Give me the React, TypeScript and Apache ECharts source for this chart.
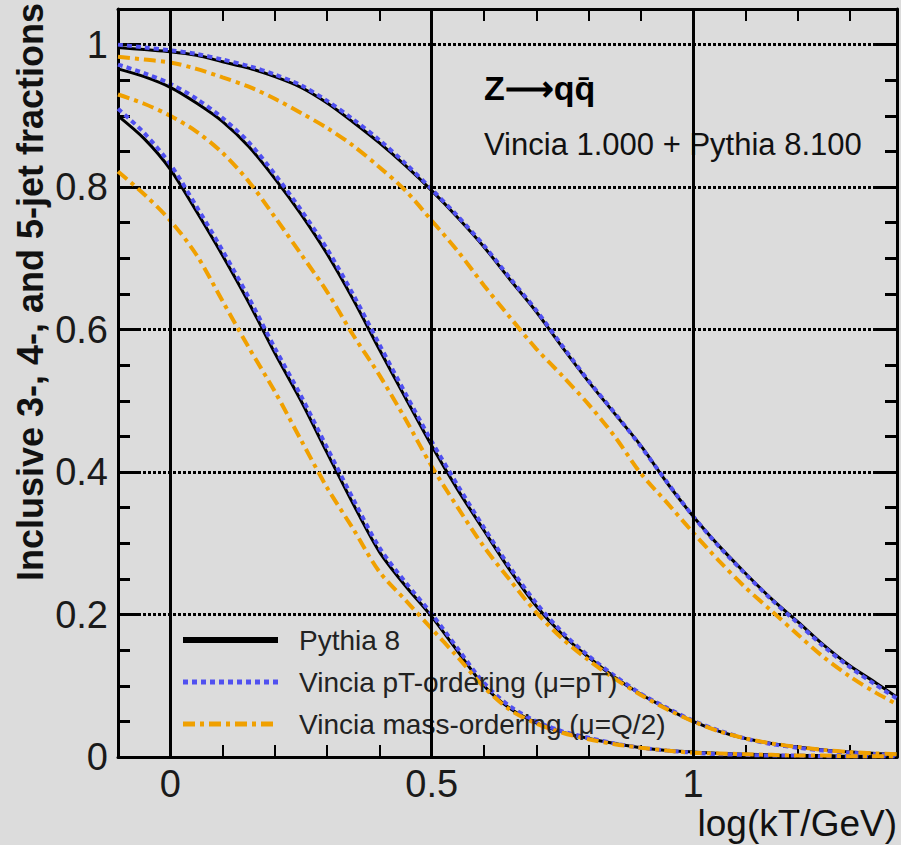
import React, { useEffect, useRef } from "react";
import * as echarts from "echarts";

// x values: log(kT/GeV)
const X = [-0.1, -0.05, 0, 0.05, 0.1, 0.15, 0.2, 0.25, 0.3, 0.35, 0.4, 0.45, 0.5, 0.55, 0.6, 0.65, 0.7, 0.75, 0.8, 0.85, 0.9, 0.95, 1.0, 1.05, 1.1, 1.15, 1.2, 1.25, 1.3, 1.35, 1.39];

// Pythia 8 (black solid)
const P3 = [0.996, 0.993, 0.990, 0.985, 0.976, 0.967, 0.955, 0.940, 0.918, 0.891, 0.862, 0.830, 0.795, 0.757, 0.716, 0.670, 0.625, 0.575, 0.527, 0.482, 0.437, 0.385, 0.338, 0.296, 0.258, 0.222, 0.190, 0.157, 0.128, 0.104, 0.084];
const P4 = [0.966, 0.955, 0.940, 0.918, 0.892, 0.857, 0.812, 0.762, 0.706, 0.642, 0.572, 0.504, 0.437, 0.375, 0.318, 0.262, 0.212, 0.172, 0.140, 0.112, 0.088, 0.068, 0.050, 0.036, 0.026, 0.019, 0.014, 0.010, 0.007, 0.005, 0.004];
const P5 = [0.900, 0.868, 0.825, 0.766, 0.704, 0.638, 0.567, 0.500, 0.427, 0.355, 0.288, 0.240, 0.197, 0.148, 0.100, 0.068, 0.048, 0.035, 0.026, 0.019, 0.013, 0.009, 0.007, 0.005, 0.004, 0.003, 0.002, 0.002, 0.001, 0.001, 0.001];

// Vincia pT-ordering (blue dotted)
const V3 = [1.000, 0.996, 0.992, 0.987, 0.979, 0.970, 0.958, 0.943, 0.921, 0.895, 0.866, 0.833, 0.797, 0.759, 0.718, 0.672, 0.627, 0.577, 0.528, 0.483, 0.436, 0.386, 0.338, 0.295, 0.257, 0.221, 0.188, 0.155, 0.126, 0.101, 0.082];
const V4 = [0.972, 0.960, 0.945, 0.924, 0.897, 0.863, 0.818, 0.768, 0.713, 0.649, 0.579, 0.510, 0.443, 0.381, 0.322, 0.266, 0.216, 0.175, 0.142, 0.114, 0.089, 0.069, 0.051, 0.037, 0.026, 0.018, 0.013, 0.009, 0.006, 0.004, 0.003];
const V5 = [0.910, 0.876, 0.832, 0.773, 0.711, 0.645, 0.574, 0.507, 0.434, 0.362, 0.294, 0.245, 0.201, 0.152, 0.104, 0.071, 0.050, 0.036, 0.027, 0.019, 0.013, 0.009, 0.006, 0.004, 0.003, 0.002, 0.002, 0.001, 0.001, 0.001, 0.001];

// Vincia mass-ordering (orange dash-dot)
const M3 = [0.983, 0.979, 0.975, 0.966, 0.954, 0.941, 0.924, 0.904, 0.883, 0.858, 0.828, 0.795, 0.753, 0.710, 0.662, 0.617, 0.573, 0.535, 0.495, 0.450, 0.398, 0.357, 0.315, 0.275, 0.238, 0.205, 0.172, 0.140, 0.113, 0.090, 0.074];
const M4 = [0.930, 0.917, 0.900, 0.878, 0.848, 0.808, 0.758, 0.706, 0.653, 0.592, 0.536, 0.474, 0.408, 0.350, 0.295, 0.248, 0.203, 0.166, 0.136, 0.110, 0.087, 0.067, 0.050, 0.036, 0.026, 0.019, 0.014, 0.010, 0.007, 0.005, 0.004];
const M5 = [0.822, 0.790, 0.753, 0.705, 0.640, 0.575, 0.513, 0.445, 0.378, 0.320, 0.260, 0.220, 0.180, 0.140, 0.098, 0.066, 0.047, 0.034, 0.025, 0.018, 0.013, 0.009, 0.006, 0.005, 0.004, 0.003, 0.002, 0.002, 0.001, 0.001, 0.001];

const VERTICAL_LINES = [0, 0.5, 1];
const NAMES = ["Pythia 8", "Vincia pT-ordering (\u03bc=pT)", "Vincia mass-ordering (\u03bc=Q/2)"];

const BLACK = "#000000";
const BLUE = "#5050f0";
const ORANGE = "#f0a000";
const BG = "#dcdcdc";
const FONT = "'Liberation Sans', Arial, Helvetica, sans-serif";

const pts = (ys: number[]) => X.map((x, i) => [x, ys[i]]);

export default function App() {
  const ref = useRef<HTMLDivElement>(null);
  useEffect(() => {
    if (!ref.current) return;
    const chart = echarts.init(ref.current, undefined, { renderer: "svg" });

    const blackStyle = { color: BLACK, width: 3, type: "solid" as const };
    const blueStyle = { color: BLUE, width: 4, type: [5, 4] as any };
    const orangeStyle = { color: ORANGE, width: 4, type: [12, 5, 4, 5] as any };

    const mk = (name: string, ys: number[], ls: any, color: string, extra: any = {}) => ({
      type: "line",
      name,
      data: pts(ys),
      symbol: "none",
      smooth: 0.3,
      color,
      lineStyle: ls,
      silent: true,
      ...extra,
    });

    const series: any[] = [
      mk(NAMES[0], P3, blackStyle, BLACK, {
        markLine: {
          silent: true,
          symbol: ["none", "none"],
          label: { show: false },
          lineStyle: { color: BLACK, width: 3, type: "solid" },
          data: VERTICAL_LINES.map((v) => ({ xAxis: v })),
        },
      }),
      mk(NAMES[0], P4, blackStyle, BLACK),
      mk(NAMES[0], P5, blackStyle, BLACK),
      mk(NAMES[1], V3, blueStyle, BLUE),
      mk(NAMES[1], V4, blueStyle, BLUE),
      mk(NAMES[1], V5, blueStyle, BLUE),
      mk(NAMES[2], M3, orangeStyle, ORANGE),
      mk(NAMES[2], M4, orangeStyle, ORANGE),
      mk(NAMES[2], M5, orangeStyle, ORANGE),
    ];

    const xLabel = (v: number) => {
      const r = Math.round(v * 10) / 10;
      if (Math.abs(v - r) > 1e-6) return "";
      if (r === 0) return "0";
      if (r === 0.5) return "0.5";
      if (r === 1) return "1";
      return "";
    };
    const yLabel = (v: number) => {
      const r = Math.round(v * 10) / 10;
      if (Math.abs(v - r) > 1e-6) return "";
      return String(r);
    };

    const axisLine = { show: true, onZero: false, lineStyle: { color: BLACK, width: 3 } };

    chart.setOption({
      animation: false,
      backgroundColor: BG,
      grid: { left: 118, right: 4, top: 9, bottom: 88, containLabel: false },
      xAxis: [
        {
          type: "value",
          position: "bottom",
          min: -0.1,
          max: 1.39,
          interval: 0.1,
          axisLine,
          axisTick: { show: true, inside: true, length: 12, lineStyle: { color: BLACK, width: 2 } },
          axisLabel: { formatter: xLabel, fontSize: 38, color: "#1a1a1a", fontFamily: FONT, margin: 8 },
          splitLine: { show: false },
        },
        {
          type: "value",
          position: "top",
          min: -0.1,
          max: 1.39,
          interval: 0.1,
          axisLine,
          axisTick: { show: true, inside: true, length: 12, lineStyle: { color: BLACK, width: 2 } },
          axisLabel: { show: false },
          splitLine: { show: false },
        },
      ],
      yAxis: [
        {
          type: "value",
          position: "left",
          min: 0,
          max: 1.05,
          interval: 0.2,
          axisLine,
          axisTick: { show: true, inside: true, length: 22, lineStyle: { color: BLACK, width: 3 } },
          minorTick: { show: true, splitNumber: 4, length: 12, lineStyle: { color: BLACK, width: 3 } },
          axisLabel: { formatter: yLabel, fontSize: 38, color: "#1a1a1a", fontFamily: FONT, margin: 10 },
          splitLine: { show: true, lineStyle: { color: BLACK, width: 3, type: [3, 2] } },
        },
        {
          type: "value",
          position: "right",
          min: 0,
          max: 1.05,
          interval: 0.2,
          axisLine,
          axisTick: { show: true, inside: true, length: 22, lineStyle: { color: BLACK, width: 3 } },
          minorTick: { show: true, splitNumber: 4, length: 12, lineStyle: { color: BLACK, width: 3 } },
          axisLabel: { show: false },
          splitLine: { show: false },
        },
      ],
      legend: {
        show: true,
        orient: "vertical",
        left: 175,
        top: 621,
        itemWidth: 95,
        itemHeight: 14,
        itemGap: 14,
        selectedMode: false,
        itemStyle: { opacity: 0 },
        textStyle: { fontSize: 28, color: "#222", fontFamily: FONT, padding: [0, 0, 0, 16] },
        data: [
          { name: NAMES[0], lineStyle: { width: 6 } },
          { name: NAMES[1], lineStyle: { width: 5 } },
          { name: NAMES[2], lineStyle: { width: 5 } },
        ],
      },
      graphic: [
        {
          type: "text",
          x: 30,
          y: 292,
          rotation: Math.PI / 2,
          style: {
            text: "Inclusive 3-, 4-, and 5-jet fractions",
            font: `bold 36px ${FONT}`,
            fill: "#111",
            textAlign: "center",
            textVerticalAlign: "middle",
          },
        },
        {
          type: "text",
          x: 897,
          y: 823,
          style: {
            text: "log(kT/GeV)",
            font: `37px ${FONT}`,
            fill: "#111",
            textAlign: "right",
            textVerticalAlign: "middle",
          },
        },
        {
          type: "text",
          x: 484,
          y: 88,
          style: {
            text: "Z\u27F6qq\u0304",
            font: `bold 34px ${FONT}`,
            fill: "#000",
            textAlign: "left",
            textVerticalAlign: "middle",
          },
        },
        {
          type: "text",
          x: 484,
          y: 144,
          style: {
            text: "Vincia 1.000 + Pythia 8.100",
            font: `31px ${FONT}`,
            fill: "#111",
            textAlign: "left",
            textVerticalAlign: "middle",
          },
        },
      ],
      series,
    });
    return () => chart.dispose();
  }, []);

  return (
    <div
      ref={ref}
      style={{ position: "absolute", left: 0, top: 0, width: 901, height: 845, background: BG }}
    />
  );
}
